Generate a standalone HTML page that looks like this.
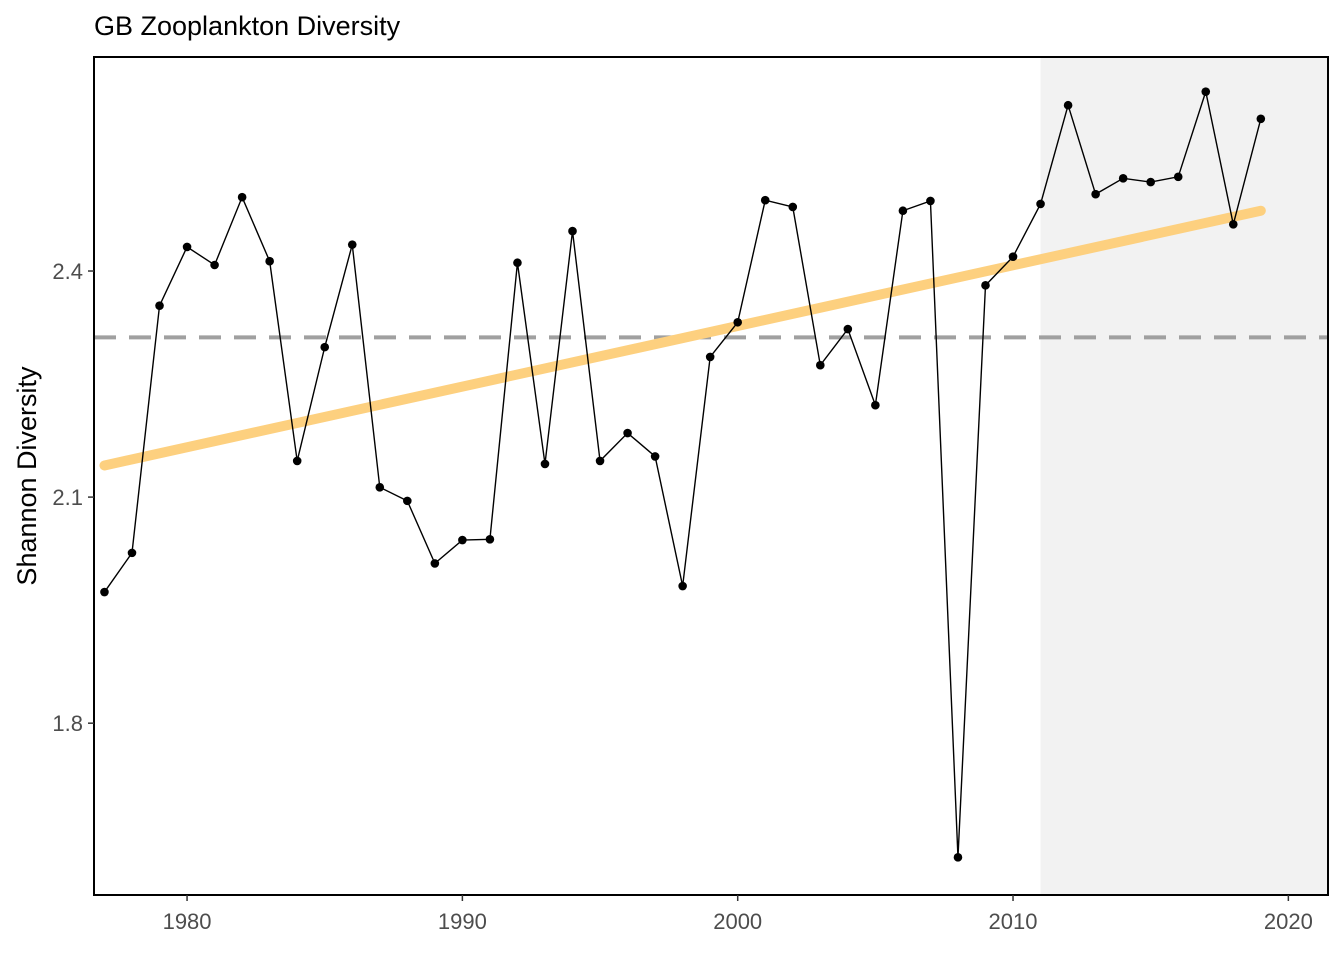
<!DOCTYPE html>
<html><head><meta charset="utf-8"><style>
body{margin:0;background:#fff;}
svg{display:block;font-family:"Liberation Sans",Arial,sans-serif;}
</style></head><body>
<svg width="1344" height="960">
<g id="g"></g>
</svg>
<script>
const years=[1977,1978,1979,1980,1981,1982,1983,1984,1985,1986,1987,1988,1989,1990,1991,1992,1993,1994,1995,1996,1997,1998,1999,2000,2001,2002,2003,2004,2005,2006,2007,2008,2009,2010,2011,2012,2013,2014,2015,2016,2017,2018,2019];
const values=[1.974,2.026,2.354,2.432,2.408,2.498,2.413,2.148,2.299,2.435,2.113,2.095,2.012,2.043,2.044,2.411,2.144,2.453,2.148,2.185,2.154,1.982,2.286,2.332,2.494,2.485,2.275,2.323,2.222,2.480,2.493,1.622,2.381,2.419,2.489,2.620,2.502,2.523,2.518,2.525,2.638,2.462,2.602];
const meanValue=[2.312];
const trendYears=[1977,2019];
const trendValues=[2.142,2.480];
const shadeStart=[2011];
const xTicks=[1980,1990,2000,2010,2020];
const yTicks=[1.8,2.1,2.4];
const L=94,T=57,R=1328,B=895;
const X0=1976.62,X1=2021.44,Y0=1.572,Y1=2.684;
const sx=v=>L+(v-X0)/(X1-X0)*(R-L);
const sy=v=>B-(v-Y0)/(Y1-Y0)*(B-T);
const NS="http://www.w3.org/2000/svg";
const g=document.getElementById('g');
function mk(t,a,name){const e=document.createElementNS(NS,t);for(const k in a)e.setAttribute(k,a[k]);


g.appendChild(e);return e;}
mk('rect',{x:sx(shadeStart[0]),y:T,width:R-sx(shadeStart[0]),height:B-T,fill:'#f2f2f2'},'recent-period-shade');
mk('line',{x1:L,x2:R,y1:sy(meanValue[0]),y2:sy(meanValue[0]),stroke:'#a0a0a0','stroke-width':4,'stroke-dasharray':'22,13'},'mean-line');
mk('line',{x1:sx(trendYears[0]),x2:sx(trendYears[1]),y1:sy(trendValues[0]),y2:sy(trendValues[1]),stroke:'#fdd07f','stroke-width':10,'stroke-linecap':'round'},'trend-line');
mk('polyline',{points:years.map((y,i)=>sx(y)+','+sy(values[i])).join(' '),fill:'none',stroke:'#000','stroke-width':1.4},'diversity-line');
years.forEach((y,i)=>{mk('circle',{cx:sx(y),cy:sy(values[i]),r:4.3,fill:'#000'},'point-'+y);});
mk('rect',{x:L,y:T,width:R-L,height:B-T,fill:'none',stroke:'#000','stroke-width':2},'panel-border');
xTicks.forEach(t=>{mk('line',{x1:sx(t),x2:sx(t),y1:B,y2:B+6,stroke:'#333','stroke-width':1.5},'x-tick');
const e=mk('text',{x:sx(t),y:B+34,'text-anchor':'middle','font-size':22,fill:'#4d4d4d'},'x-tick-label');e.textContent=t;});
yTicks.forEach(t=>{mk('line',{x1:L-6,x2:L,y1:sy(t),y2:sy(t),stroke:'#333','stroke-width':1.5},'y-tick');
const e=mk('text',{x:L-11,y:sy(t)+8,'text-anchor':'end','font-size':22,fill:'#4d4d4d'},'y-tick-label');e.textContent=t.toFixed(1);});
const yl=mk('text',{x:0,y:0,transform:'translate(36,476) rotate(-90)','text-anchor':'middle','font-size':27,fill:'#000'},'y-axis-title');yl.textContent='Shannon Diversity';
const tt=mk('text',{x:94,y:35,'font-size':27,fill:'#000'},'chart-title');tt.textContent='GB Zooplankton Diversity';
</script>
</body></html>
